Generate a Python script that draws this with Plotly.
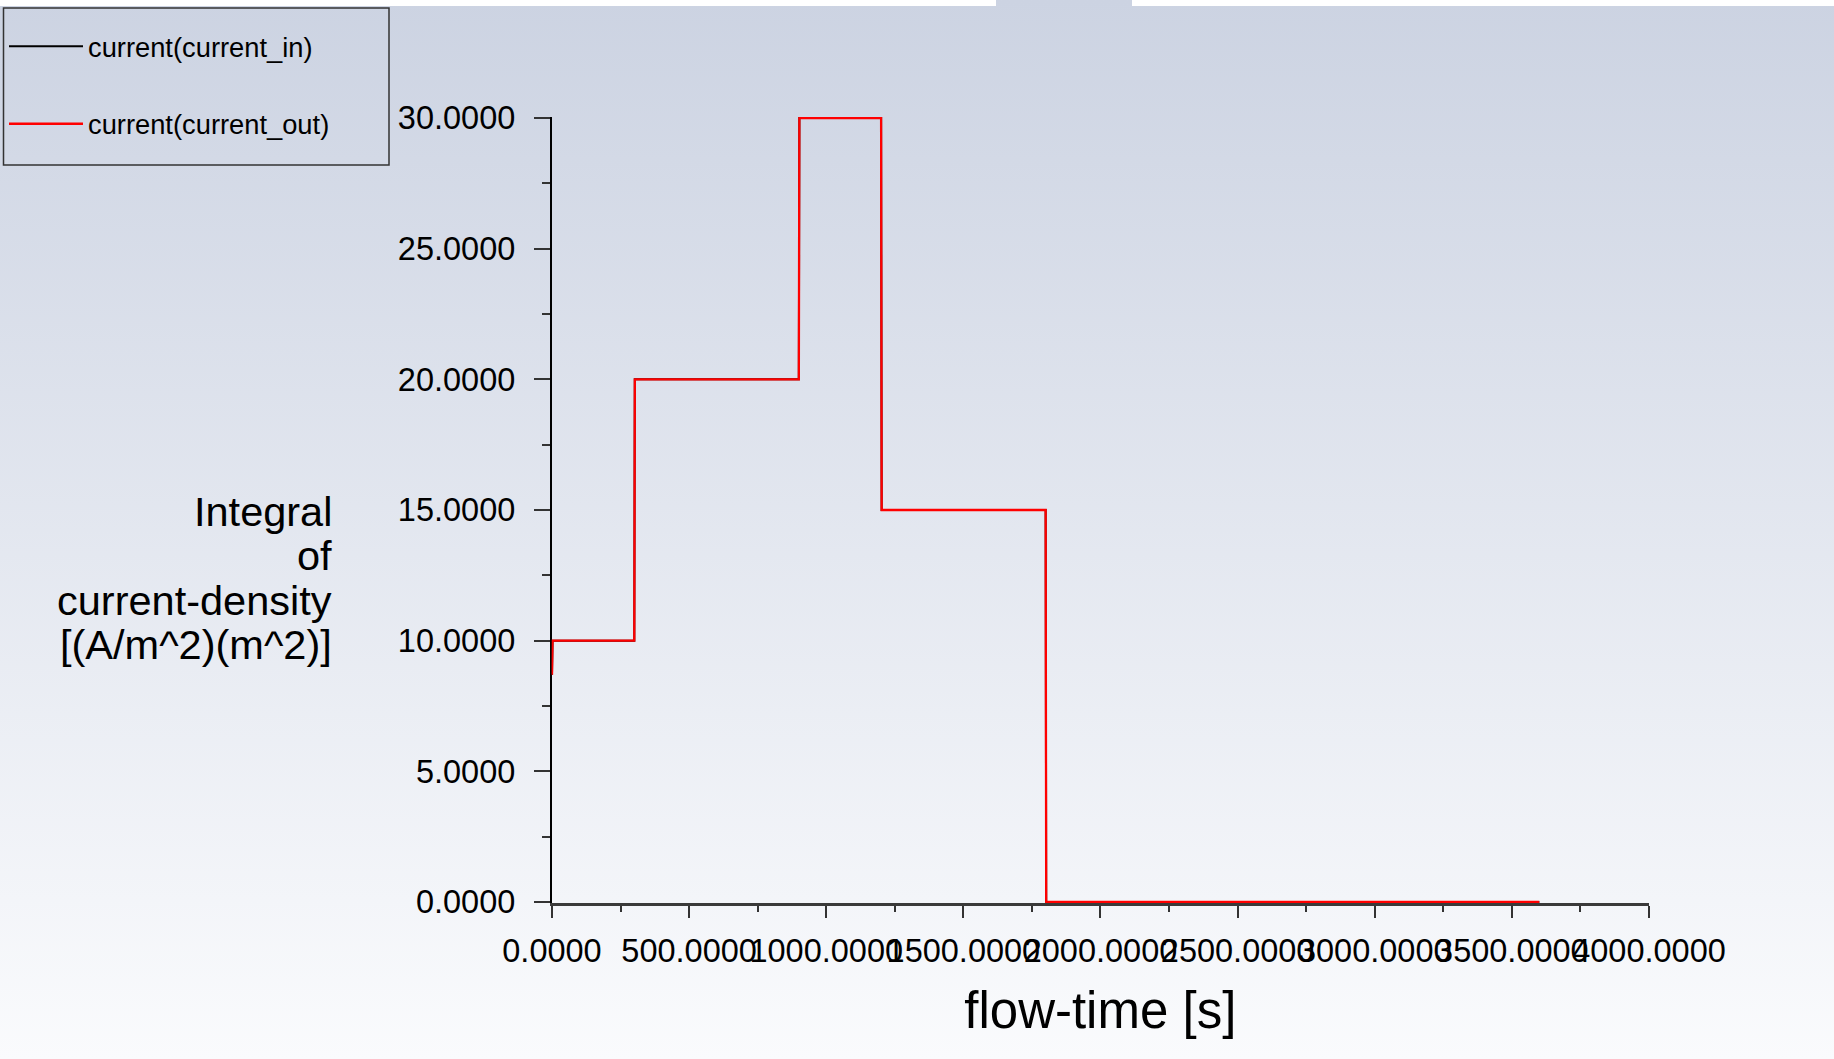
import base64
import plotly.graph_objects as go

W, H = 1834, 1059

# ---- data ----
flow_time = [0, 2, 300, 302, 900, 902, 1200, 1202, 1800, 1802, 3600]
current_in = [8.7, 10, 10, 20, 20, 30, 30, 15, 15, 0, 0]
current_out = [8.7, 10, 10, 20, 20, 30, 30, 15, 15, 0, 0]
x_ticks = [0, 500, 1000, 1500, 2000, 2500, 3000, 3500, 4000]
y_ticks = [0, 5, 10, 15, 20, 25, 30]
y_title_lines = ["Integral", "of", "current-density", "[(A/m^2)(m^2)]"]
x_title = "flow-time [s]"

FONT = "Arial, 'Liberation Sans', sans-serif"

# axis geometry in pixels: x=0 -> 552, x=4000 -> 1649 ; y=0 -> 902, y=30 -> 118
X0_PX, X1_PX = 552, 1649
Y0_PX, Y1_PX = 902, 118
XR = [-1.5, 4000]
YR = [-0.04, 30.04]
xs = (X1_PX - X0_PX) / 4000.0
ys = (Y0_PX - Y1_PX) / 30.0
dom_l = X0_PX + XR[0] * xs
dom_r = X0_PX + XR[1] * xs
dom_b = Y0_PX - YR[0] * ys
dom_t = Y0_PX - YR[1] * ys

def px(x):
    return x / W

def py(y):
    return 1 - y / H

svg = (
    f'<svg xmlns="http://www.w3.org/2000/svg" width="{W}" height="{H}" preserveAspectRatio="none">'
    '<defs><linearGradient id="g" x1="0" y1="0" x2="0" y2="1">'
    '<stop offset="0" stop-color="#ccd3e2"/><stop offset="1" stop-color="#fafbfd"/>'
    '</linearGradient></defs>'
    f'<rect width="{W}" height="{H}" fill="url(#g)"/></svg>'
)
bg_src = "data:image/svg+xml;base64," + base64.b64encode(svg.encode()).decode()

fig = go.Figure()
fig.add_trace(go.Scatter(
    x=flow_time, y=current_in, mode="lines", name="current(current_in)",
    line=dict(color="#000000", width=2), legendgroup="a",
))
fig.add_trace(go.Scatter(
    x=flow_time, y=current_out, mode="lines", name="current(current_out)",
    line=dict(color="#ff0000", width=2.3), legendgroup="b",
))

annotations = []
line_centers = [511, 555.5, 600, 644.5]
for txt, yc in zip(y_title_lines, line_centers):
    annotations.append(dict(
        text=txt, xref="paper", yref="paper", x=px(333.5), y=py(yc),
        xanchor="right", yanchor="middle", showarrow=False,
        font=dict(family=FONT, size=41.5, color="#000000"),
    ))

shapes = [
    # legend frame
    dict(type="rect", xref="paper", yref="paper",
         x0=px(3.5), x1=px(389), y0=py(165), y1=py(8),
         line=dict(color="#333333", width=1.5), fillcolor="rgba(0,0,0,0)"),
    # white strips at the top edge
    dict(type="rect", xref="paper", yref="paper", x0=0, x1=px(996), y0=py(6), y1=1,
         line=dict(width=0), fillcolor="#ffffff"),
    dict(type="rect", xref="paper", yref="paper", x0=px(1132), x1=1, y0=py(6), y1=1,
         line=dict(width=0), fillcolor="#ffffff"),
]

fig.update_layout(
    width=W, height=H,
    margin=dict(l=0, r=0, t=0, b=0, pad=0, autoexpand=False),
    paper_bgcolor="#ffffff",
    plot_bgcolor="rgba(0,0,0,0)",
    font=dict(family=FONT, color="#000000"),
    images=[dict(source=bg_src, xref="paper", yref="paper", x=0, y=1,
                 sizex=1, sizey=1, sizing="stretch", layer="below")],
    showlegend=True,
    legend=dict(
        x=px(4), y=py(22), xanchor="left", yanchor="top",
        bgcolor="rgba(0,0,0,0)", borderwidth=0,
        font=dict(family=FONT, size=27.3, color="#000000"),
        itemwidth=74, traceorder="grouped", tracegroupgap=39,
    ),
    xaxis=dict(
        domain=[px(dom_l), px(dom_r)], range=XR, automargin=False,
        tickmode="array", tickvals=x_ticks, tickformat=".4f", tickangle=0,
        ticks="outside", ticklen=12, tickwidth=1.5, tickcolor="#333333",
        minor=dict(dtick=250, ticks="outside", ticklen=6, tickwidth=1.5, tickcolor="#333333"),
        showline=True, linecolor="#3a3a3a", linewidth=2.5, layer="below traces",
        showgrid=False, zeroline=False,
        tickfont=dict(family=FONT, size=32.5, color="#000000"),
        ticklabelstandoff=5,
        title=dict(text=x_title, font=dict(family=FONT, size=51, color="#000000"), standoff=25),
    ),
    yaxis=dict(
        domain=[py(dom_b), py(dom_t)], range=YR, automargin=False,
        tickmode="array", tickvals=y_ticks, tickformat=".4f",
        ticks="outside", ticklen=16, tickwidth=1.5, tickcolor="#333333",
        minor=dict(dtick=2.5, tick0=0, ticks="outside", ticklen=8, tickwidth=1.5, tickcolor="#333333"),
        showline=True, linecolor="#000000", linewidth=1.5, layer="below traces",
        showgrid=False, zeroline=False,
        tickfont=dict(family=FONT, size=32.5, color="#000000"),
        ticklabelstandoff=12,
    ),
    annotations=annotations,
    shapes=shapes,
)

fig.write_html(
    "out.html",
    config={"displayModeBar": False},
    post_script="document.body.style.margin='0';document.body.style.overflow='hidden';",
)
